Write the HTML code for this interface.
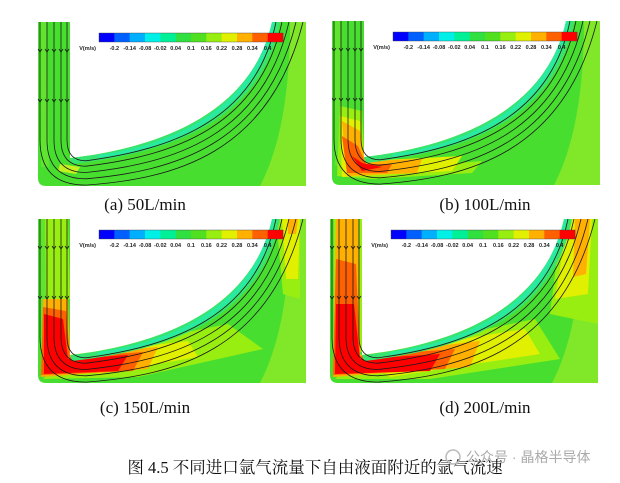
<!DOCTYPE html>
<html><head><meta charset="utf-8"><style>
html,body{margin:0;padding:0;background:#fff;width:620px;height:483px;overflow:hidden}
svg{display:block}
.cap{font-family:"Liberation Serif",serif;font-size:17px;fill:#111}
.cb{font-family:"Liberation Sans",sans-serif;font-size:5.5px;font-weight:bold;fill:#222}
</style></head><body>
<svg id="s" width="620" height="483" viewBox="0 0 620 483" xmlns="http://www.w3.org/2000/svg">
<defs>
<clipPath id="cp"><path d="M0,0 L32,0 L32,136 C120,126 214,92 234,0 L268,0 L268,164 L8,164 Q0,164 0,156 Z"/></clipPath>
</defs>
<g id="panels"></g>
<text class="cap" x="145" y="210" text-anchor="middle">(a) 50L/min</text>
<text class="cap" x="485" y="210" text-anchor="middle">(b) 100L/min</text>
<text class="cap" x="145" y="413" text-anchor="middle">(c) 150L/min</text>
<text class="cap" x="485" y="413" text-anchor="middle">(d) 200L/min</text>
<text x="315" y="473" text-anchor="middle" style="font-family:'Liberation Serif','Noto Serif CJK SC',serif;font-size:16.5px;fill:#111">图 4.5 不同进口氩气流量下自由液面附近的氩气流速</text>
<circle cx="453" cy="457" r="7" fill="none" stroke="#bbb" stroke-width="1.5"/>
<text x="466" y="462" style="font-family:'Liberation Sans','Noto Sans CJK SC',sans-serif;font-size:14px;fill:#aaa">公众号 · 晶格半导体</text>
</svg>
<script>
var NS="http://www.w3.org/2000/svg";
var G=document.getElementById("panels");
var cols=["#0000ff","#0060ff","#00b0ff","#00f0e8","#00f098","#30e040","#50e020","#98ee10","#e0f000","#ffb000","#ff6000","#ff0000"];
var labs=["-0.2","-0.14","-0.08","-0.02","0.04","0.1","0.16","0.22","0.28","0.34","0.4"];
var base=[["#80e828","M222,164 C245,120 252,60 252,0 L268,0 L268,164 Z"],
          ["#60e430","M2,0 L9,0 L11,145 L3,145 Z"]];
var blobs={
a:[["#c8f020","M22,142 L42,145 L38,152 L20,149 Z"]],
b:[["#98ee10","M8,85 L30,90 L33,150 L150,140 L140,152 L40,158 L5,155 Z"],
   ["#e0f000","M8,95 L28,100 L32,140 L130,135 L120,150 L10,156 Z"],
   ["#ffb000","M10,100 L28,110 L33,140 L90,138 L85,152 L15,155 Z"],
   ["#ff6000","M10,115 L26,125 L34,143 L60,143 L55,152 L15,152 Z"],
   ["#ff0000","M20,135 L30,142 L50,146 L30,150 Z"]],
c:[["#98ee10","M7,0 L30,0 L32,80 L8,80 Z"],["#98ee10","M238,0 L262,0 L262,80 L245,75 Z"],
   ["#98ee10","M30,136 L190,105 L225,130 L100,158 L5,160 Z"],
   ["#e0f000","M30,136 L150,122 L160,138 L60,155 Z"],["#e0f000","M244,0 L262,0 L260,60 L248,60 Z"],
   ["#ffb000","M5,80 L30,80 L32,136 L120,128 L110,150 L3,158 Z"],["#ffb000","M250,0 L260,0 L258,15 L250,15 Z"],
   ["#ff6000","M5,88 L28,92 L32,138 L105,133 L95,152 L3,156 Z"],
   ["#ff0000","M6,95 L25,100 L30,140 L90,136 L80,152 L6,155 Z"]],
d:[["#98ee10","M4,0 L32,0 L32,133 L4,133 Z"],["#98ee10","M232,0 L268,0 L268,105 L220,95 Z"],
   ["#98ee10","M30,136 L205,100 L230,140 L100,160 L5,160 Z"],
   ["#e0f000","M30,136 L195,110 L210,135 L60,158 Z"],["#e0f000","M238,0 L262,0 L258,75 L225,80 Z"],
   ["#ffb000","M6,0 L28,0 L30,136 L150,122 L140,148 L3,158 Z"],["#ffb000","M245,0 L260,0 L256,55 L243,58 Z"],
   ["#ff6000","M6,40 L26,45 L30,137 L125,130 L115,150 L3,156 Z"],
   ["#ff0000","M6,85 L24,85 L30,140 L110,135 L100,152 L5,155 Z"]]
};
var offs={a:[38,22],b:[332,21],c:[38,219],d:[330,219]};
function el(t,a,p){var e=document.createElementNS(NS,t);for(var k in a)e.setAttribute(k,a[k]);p.appendChild(e);return e;}
for(var key in offs){
 var o=offs[key];
 var g=el("g",{transform:"translate("+o[0]+","+o[1]+")"},G);
 var c=el("g",{"clip-path":"url(#cp)"},g);
 el("rect",{x:0,y:0,width:270,height:170,fill:"#48de30"},c);
 base.concat(blobs[key]).forEach(function(b){el("path",{d:b[1],fill:b[0]},c);});
 el("path",{d:"M32,136 C120,126 214,92 234,0 L242,0 C223,99 133,131 34,142 Z",fill:"#38e470"},c);
 el("path",{d:"M60,133 C130,124 214,90 234,0 L237,0 C220,95 130,127 60,136 Z",fill:"#28eaa0"},c);
 [2,8,15,22,29].forEach(function(d){
  var lx=31-d, by=137+d*0.9;
  var p="M"+lx+",0 V118 Q"+lx+","+by+" 48,"+by+" C135,"+(125+d*1.1)+" "+(217+d*0.5)+","+(95+d*1.3)+" "+(236+d)+",0";
  el("path",{d:p,fill:"none",stroke:"#1a1a1a","stroke-width":0.8},g);
  [[lx,30],[lx,80]].forEach(function(q){el("path",{d:"M"+(q[0]-2)+","+(q[1]-3)+" L"+q[0]+","+q[1]+" L"+(q[0]+2)+","+(q[1]-3),fill:"none",stroke:"#111","stroke-width":0.7},g);});
 });
 var x0=61,w=184/12;
 for(var i=0;i<12;i++) el("rect",{x:x0+i*w,y:11,width:w+0.3,height:9,fill:cols[i]},g);
 el("rect",{x:x0,y:11,width:184,height:9,fill:"none",stroke:"#444","stroke-width":0.4},g);
 var t=el("text",{x:x0-3,y:28,"class":"cb","text-anchor":"end"},g);t.textContent="V(m/s)";
 for(var i=0;i<11;i++){var tt=el("text",{x:x0+(i+1)*w,y:28,"class":"cb","text-anchor":"middle"},g);tt.textContent=labs[i];}
}
</script>
</body></html>
